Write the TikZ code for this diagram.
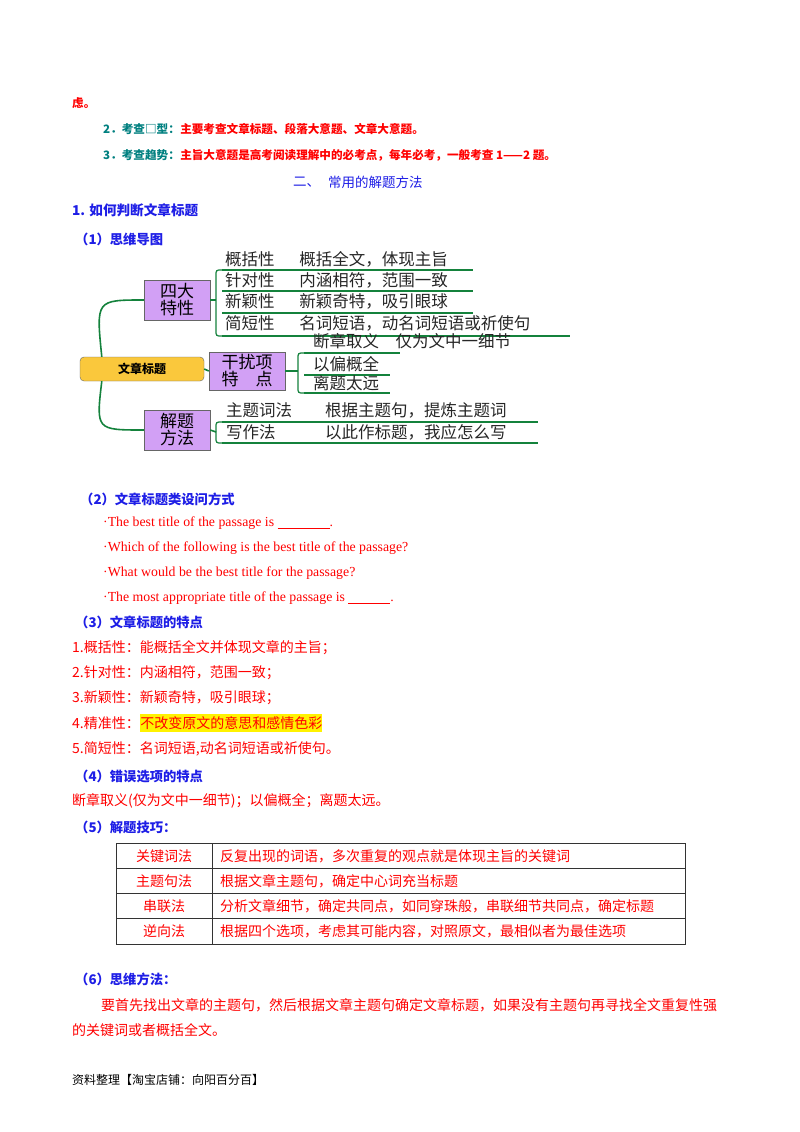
\documentclass[tikz,border=0pt]{standalone}
\usepackage{fontspec}
\setmainfont{Noto Sans CJK SC}
\newfontfamily\serifen{Liberation Serif}
\definecolor{rd}{RGB}{255,0,0}
\definecolor{tl}{RGB}{0,128,128}
\definecolor{bl}{RGB}{30,30,230}
\definecolor{gr}{RGB}{20,130,60}
\definecolor{pp}{RGB}{210,160,245}
\definecolor{yl}{RGB}{250,200,60}
\begin{document}
\begin{tikzpicture}[x=1pt,y=-1pt,
  t/.style={anchor=west,inner sep=0pt,font=\fontsize{14}{16}\selectfont},
  b/.style={anchor=west,inner sep=0pt,font=\fontsize{13.3}{15}\selectfont\bfseries},
  hb/.style={anchor=west,inner sep=0pt,font=\fontsize{11.6}{14}\selectfont\bfseries},
  mm/.style={anchor=west,inner sep=0pt,font=\fontsize{16.5}{17}\selectfont,text=black!85},
  pbox/.style={draw=black!60,fill=pp,align=center,inner sep=1pt,font=\fontsize{17}{17}\selectfont},
  gl/.style={draw=gr,line width=1.6pt},
  en/.style={anchor=west,inner sep=0pt,text=rd,font=\serifen\fontsize{13.8}{15}\selectfont},
  cell/.style={inner sep=0pt,font=\fontsize{14}{16}\selectfont,text=rd}]
\useasboundingbox (0,0) rectangle (800,1132);
\fill[white] (0,0) rectangle (800,1132);
\node[hb,text=rd] (l0) at (72,103) {虑。};
\node[hb,text=tl] (l2a) at (103,129) {2．考查□型：};
\node[hb,text=rd,anchor=west] (l2b) at (l2a.east) {主要考查文章标题、段落大意题、文章大意题。};
\node[hb,text=tl] (l3a) at (103,155) {3．考查趋势：};
\node[hb,text=rd,anchor=west] (l3b) at (l3a.east) {主旨大意题是高考阅读理解中的必考点，每年必考，一般考查 1——2 题。};
\node[t,text=bl,font=\fontsize{13.5}{15}\selectfont] (h2a) at (293,182) {二、};
\node[t,text=bl,font=\fontsize{13.5}{15}\selectfont] (h2) at (328,182) {常用的解题方法};
\node[b,text=bl,font=\fontsize{13.6}{16}\selectfont\bfseries] (h1) at (72,210) {1. 如何判断文章标题};
\node[b,text=bl] (s1) at (75,239) {（1）思维导图};
% mind map
\node[draw=black!60,fill=yl,rounded corners=4pt,minimum width=124pt,minimum height=24pt,font=\fontsize{12}{14}\selectfont\bfseries] (root) at (142,369) {文章标题};
\node[pbox,minimum width=66pt,minimum height=40pt] (n1) at (177,300) {四大\\特性};
\node[pbox,minimum width=76pt,minimum height=38pt] (n2) at (247,371) {干扰项\\特\quad 点};
\node[pbox,minimum width=66pt,minimum height=40pt] (n3) at (177,430) {解题\\方法};
\draw[gl] (root.north west)++(22,0) coordinate (r1) .. controls (96,300) .. (n1.west);
\draw[gl] (root.south west)++(22,0) coordinate (r3) .. controls (96,430) .. (n3.west);
\draw[gl] (root.east) -- (n2.west);
% branch 1
\coordinate (b1) at (216,300);
\draw[gl] (n1.east) -- (b1);
\draw[gl,line width=1.2pt] (222,270) -- (473,270) (222,291) -- (473,291) (222,313) -- (473,313) (222,336) -- (570,336);
\draw[gl,line width=1.2pt] (222,270) .. controls (216,270) .. (216,276) -- (216,330) .. controls (216,336) .. (222,336);
\node[mm] (a1) at (225,259) {概括性\enspace\quad 概括全文，体现主旨};
\node[mm] (a2) at (225,280) {针对性\enspace\quad 内涵相符，范围一致};
\node[mm] (a3) at (225,301) {新颖性\enspace\quad 新颖奇特，吸引眼球};
\node[mm] (a4) at (225,323) {简短性\enspace\quad 名词短语，动名词短语或祈使句};
% branch 2
\draw[gl] (n2.east) -- (298,371);
\draw[gl,line width=1.2pt] (304,353) -- (400,353) (304,375) -- (390,375) (304,393) -- (390,393);
\draw[gl,line width=1.2pt] (304,353) .. controls (298,353) .. (298,359) -- (298,387) .. controls (298,393) .. (304,393);
\node[mm] (c1) at (313,341) {断章取义\quad 仅为文中一细节};
\node[mm] (c2) at (313,364) {以偏概全};
\node[mm] (c3) at (313,383) {离题太远};
% branch 3
\draw[gl] (n3.east) -- (216,432);
\draw[gl,line width=1.2pt] (222,422) -- (538,422) (222,443) -- (538,443);
\draw[gl,line width=1.2pt] (222,422) .. controls (216,422) .. (216,428) -- (216,437) .. controls (216,443) .. (222,443);
\node[mm] (d1) at (226,410) {主题词法\qquad 根据主题句，提炼主题词};
\node[mm] (d2) at (226,432) {写作法\qquad\quad 以此作标题，我应怎么写};
% (2)
\node[b,text=bl] (s2) at (80,499) {（2）文章标题类设问方式};
\node[en] (e1) at (103,523) {·The best title of the passage is \underline{\hspace{52pt}}.};
\node[en] (e2) at (103,548) {·Which of the following is the best title of the passage?};
\node[en] (e3) at (103,573) {·What would be the best title for the passage?};
\node[en] (e4) at (103,598) {·The most appropriate title of the passage is \underline{\hspace{42pt}}.};
% (3)
\node[b,text=bl] (s3) at (75,622) {（3）文章标题的特点};
\node[t,text=rd] (f1) at (72,648) {1.概括性：能概括全文并体现文章的主旨；};
\node[t,text=rd] (f2) at (72,673) {2.针对性：内涵相符，范围一致；};
\node[t,text=rd] (f3) at (72,698) {3.新颖性：新颖奇特，吸引眼球；};
\node[t,text=rd] (f4) at (72,723) {4.精准性：};
\node[t,text=rd,fill=yellow,inner ysep=2pt] (f4b) at (f4.east) {不改变原文的意思和感情色彩};
\node[t,text=rd] (f5) at (72,749) {5.简短性：名词短语,动名词短语或祈使句。};
% (4)
\node[b,text=bl] (s4) at (75,776) {（4）错误选项的特点};
\node[t,text=rd] (g1) at (72,801) {断章取义(仅为文中一细节)；以偏概全；离题太远。};
% (5)
\node[b,text=bl] (s5) at (75,827) {（5）解题技巧：};
\draw[black!80,line width=0.8pt] (116,843) rectangle (685,944);
\draw[black!80,line width=0.8pt] (116,868) -- (685,868) (116,893) -- (685,893) (116,918) -- (685,918) (212,843) -- (212,944);
\node[cell] (k1) at (164,856) {关键词法};
\node[cell] (k2) at (164,881) {主题句法};
\node[cell] (k3) at (164,906) {串联法};
\node[cell] (k4) at (164,931) {逆向法};
\node[cell,anchor=west] (v1) at (220,856) {反复出现的词语，多次重复的观点就是体现主旨的关键词};
\node[cell,anchor=west] (v2) at (220,881) {根据文章主题句，确定中心词充当标题};
\node[cell,anchor=west] (v3) at (220,906) {分析文章细节，确定共同点，如同穿珠般，串联细节共同点，确定标题};
\node[cell,anchor=west] (v4) at (220,931) {根据四个选项，考虑其可能内容，对照原文，最相似者为最佳选项};
% (6)
\node[b,text=bl] (s6) at (75,979) {（6）思维方法：};
\node[t,text=rd] (p1) at (101,1005) {要首先找出文章的主题句，然后根据文章主题句确定文章标题，如果没有主题句再寻找全文重复性强};
\node[t,text=rd] (p2) at (72,1030) {的关键词或者概括全文。};
\node[t,text=black,font=\fontsize{12}{13}\selectfont] (ft) at (72,1080) {资料整理【淘宝店铺：向阳百分百】};
\end{tikzpicture}
\end{document}
